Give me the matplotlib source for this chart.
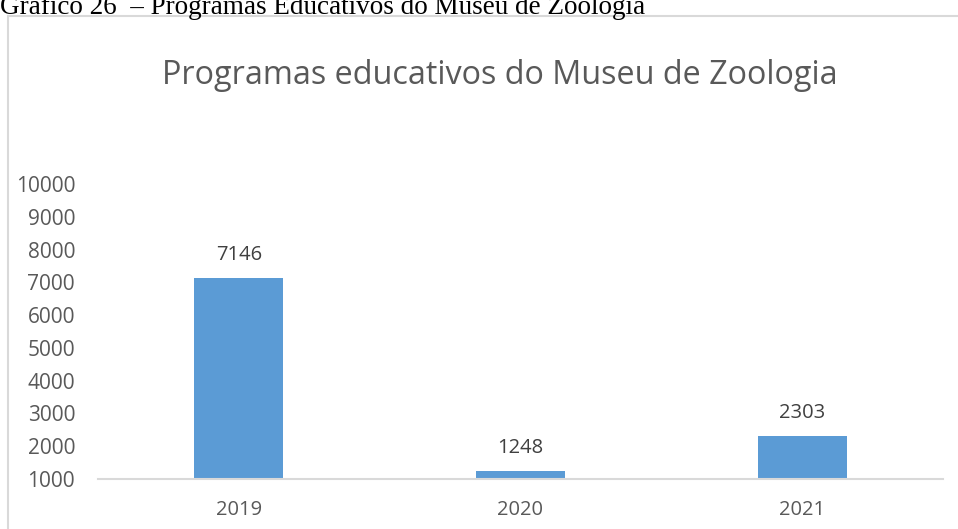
import matplotlib.pyplot as plt
from matplotlib.patches import Rectangle

# --- Data ---
anos = ["2019", "2020", "2021"]
participantes = [7146, 1248, 2303]
y_ticks = [1000, 2000, 3000, 4000, 5000, 6000, 7000, 8000, 9000, 10000]

W, H = 958, 529
fig = plt.figure(figsize=(W / 100, H / 100), dpi=100)

# caption above the chart frame (serif, like the report body)
fig.text(0, 1 - 14 / H, "Gráfico 26  – Programas Educativos do Museu de Zoologia",
         family="Liberation Serif", fontsize=19.5, color="black", ha="left", va="baseline")

# chart frame
fig.patches.append(Rectangle((8 / W, -0.1), 1.2, 1.1 - 16 / H, transform=fig.transFigure,
                             facecolor="none", edgecolor="#d9d9d9", linewidth=1.5))

fig.text(500 / W, 1 - 76 / H, "Programas educativos do Museu de Zoologia",
         family="Open Sans", fontsize=23.3, color="#595959", ha="center", va="center")

ax = fig.add_axes([98 / W, 1 - 479 / H, 845 / W, 295 / H])
x = range(len(anos))
bars = ax.bar(x, [v - 1000 for v in participantes], bottom=1000, width=0.316,
              color="#5b9bd5", zorder=2)

for xi, v in zip(x, participantes):
    ax.annotate(str(v), (xi, v), xytext=(0, 23), textcoords="offset pixels",
                ha="center", va="center", family="Open Sans", fontsize=14.5, color="#404040")

ax.set_xlim(-0.5, 2.5)
ax.set_ylim(1000, 10000)
ax.set_yticks(y_ticks)
ax.set_yticklabels([str(t) for t in y_ticks])
ax.set_xticks(list(x))
ax.set_xticklabels(anos)
ax.tick_params(axis="both", length=0, labelcolor="#595959", labelsize=14.5)
ax.tick_params(axis="y", labelsize=15, pad=16.5)
ax.tick_params(axis="x", pad=15)
for lab in ax.get_xticklabels() + ax.get_yticklabels():
    lab.set_family("Open Sans")

for side in ["top", "right", "left"]:
    ax.spines[side].set_visible(False)
ax.spines["bottom"].set_color("#d9d9d9")
ax.spines["bottom"].set_linewidth(1.5)

fig.savefig("out.png", dpi=100)
